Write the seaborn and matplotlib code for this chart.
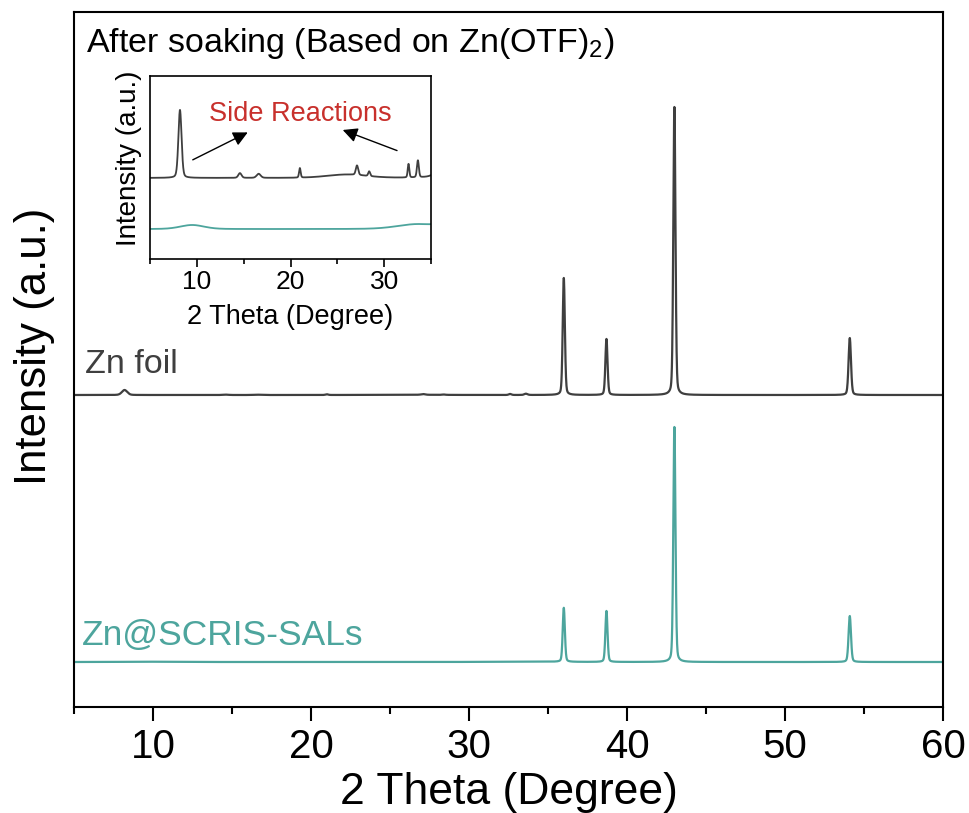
import matplotlib
matplotlib.use("Agg")
import matplotlib.pyplot as plt
from matplotlib.ticker import MultipleLocator
import numpy as np
import pandas as pd
import seaborn as sns

# peak tables: 2theta, height (main plot units), half width
foil_pos = [8.2, 14.6, 16.6, 21.0, 26.0, 27.1, 28.4, 32.6, 33.6, 36.0, 38.7, 43.0, 54.1]
foil_hgt = [5.0, 0.35, 0.3, 0.7, 0.25, 0.7, 0.35, 1.0, 1.25, 117, 56, 288, 57]
foil_wid = [0.2, 0.2, 0.25, 0.1, 2.5, 0.15, 0.12, 0.1, 0.12, 0.08, 0.08, 0.08, 0.09]

scris_pos = [9.5, 33.5, 36.0, 38.7, 43.0, 54.1]
scris_hgt = [0.3, 0.35, 54, 51, 235, 46]
scris_wid = [1.5, 2.5, 0.08, 0.08, 0.08, 0.09]

foil_base = 312
scris_base = 45
inset_scale = 13.6
inset_foil_base = 5.96
inset_scris_base = 2.2

foil_color = "#3f3f3f"
scris_color = "#4da59d"

two_theta = np.arange(5, 60.01, 0.01)


def pattern(pos, hgt, wid):
    y = np.zeros_like(two_theta)
    for p, h, w in zip(pos, hgt, wid):
        g = np.exp(-np.log(2) * ((two_theta - p) / w) ** 2)
        l = 1 / (1 + ((two_theta - p) / w) ** 2)
        y += h * (0.75 * g + 0.25 * l)
    return y


foil = pattern(foil_pos, foil_hgt, foil_wid)
scris = pattern(scris_pos, scris_hgt, scris_wid)

df = pd.DataFrame({"2theta": two_theta, "foil": foil + foil_base, "scris": scris + scris_base})
dfi = pd.DataFrame({"2theta": two_theta,
                    "foil": foil + inset_foil_base,
                    "scris": scris + inset_scris_base})
dfi = dfi[dfi["2theta"] <= 35]

sns.set_style("ticks")
plt.rcParams["font.family"] = ["Liberation Sans", "DejaVu Sans"]
plt.rcParams["mathtext.fontset"] = "custom"
plt.rcParams["mathtext.rm"] = "Liberation Sans"
plt.rcParams["text.color"] = "black"
plt.rcParams["axes.labelcolor"] = "black"
plt.rcParams["xtick.color"] = "black"
plt.rcParams["xtick.labelcolor"] = "black"

fig = plt.figure(figsize=(9.69, 8.13), dpi=100)
ax = fig.add_axes([74 / 969, 106 / 813, 869 / 969, 695 / 813])

sns.lineplot(data=df, x="2theta", y="foil", ax=ax, color=foil_color, lw=1.6)
sns.lineplot(data=df, x="2theta", y="scris", ax=ax, color=scris_color, lw=1.6)

ax.set_xlim(5, 60)
ax.set_ylim(0, 695)
ax.set_yticks([])
ax.xaxis.set_major_locator(MultipleLocator(10))
ax.xaxis.set_minor_locator(MultipleLocator(5))
ax.tick_params(axis="x", which="major", length=10, width=1.5, labelsize=29, pad=5, direction="out")
ax.tick_params(axis="x", which="minor", length=5, width=1.5, direction="out")
for s in ax.spines.values():
    s.set_linewidth(1.5)
    s.set_color("black")

ax.set_xlabel("2 Theta (Degree)", fontsize=32)
ax.xaxis.set_label_coords(0.5, -0.0935)
ax.set_ylabel("Intensity (a.u.)", fontsize=31.5)
ax.yaxis.set_label_coords(-0.022, 0.519)

ax.text(0.0138, 0.954, "After soaking (Based on Zn(OTF)$_2$)", transform=ax.transAxes,
        fontsize=24.5, ha="left", va="center")
ax.text(5.7, 334, "Zn foil", color=foil_color, fontsize=24.5, ha="left", va="baseline")
ax.text(5.5, 62, "Zn@SCRIS-SALs", color=scris_color, fontsize=25.5, ha="left", va="baseline")

# inset
axi = fig.add_axes([150 / 969, 554 / 813, 281 / 969, 183 / 813])
sns.lineplot(data=dfi, x="2theta", y="foil", ax=axi, color=foil_color, lw=1.3)
sns.lineplot(data=dfi, x="2theta", y="scris", ax=axi, color=scris_color, lw=1.3)
axi.set_xlim(5, 35)
axi.set_ylim(0, 183 / inset_scale)
axi.set_yticks([])
axi.xaxis.set_major_locator(MultipleLocator(10))
axi.xaxis.set_minor_locator(MultipleLocator(5))
axi.tick_params(axis="x", which="major", length=6, width=1.2, labelsize=19, pad=2)
axi.tick_params(axis="x", which="minor", length=3.5, width=1.2)
for s in axi.spines.values():
    s.set_linewidth(1.2)
    s.set_color("black")
axi.set_xlabel("2 Theta (Degree)", fontsize=19.5)
axi.xaxis.set_label_coords(0.5, -0.246)
axi.set_ylabel("Intensity (a.u.)", fontsize=20)
axi.yaxis.set_label_coords(-0.03, 0.55)

axi.text(21.0, 10.66, "Side Reactions", color="#c8302c", fontsize=19.5, ha="center", va="center")
axi.annotate("", xy=(15.7, 9.4), xytext=(9.3, 7.2),
             arrowprops=dict(arrowstyle="-|>", color="black", lw=1, mutation_scale=22))
axi.annotate("", xy=(25.3, 9.56), xytext=(31.65, 7.9),
             arrowprops=dict(arrowstyle="-|>", color="black", lw=1, mutation_scale=22))

fig.savefig("out.png", dpi=100)
